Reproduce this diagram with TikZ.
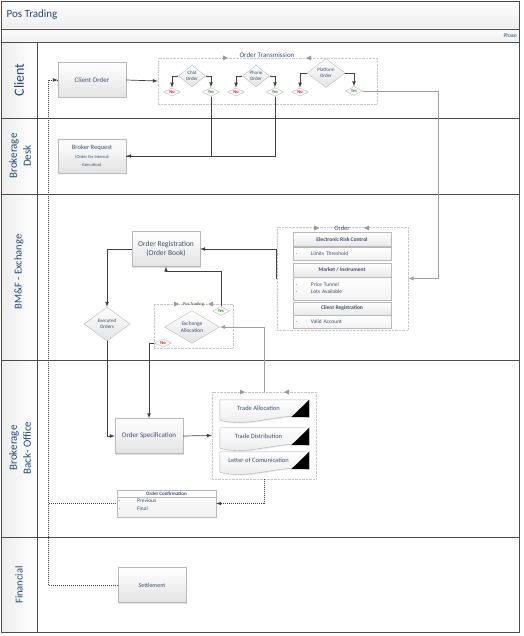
\documentclass[tikz,border=0pt]{standalone}
\usepackage{fontspec}
\setmainfont{Carlito}
\usetikzlibrary{arrows,positioning,calc,shadows,shapes.geometric}
\definecolor{darkblue}{HTML}{1F497D}
\definecolor{boxtext}{HTML}{3B4F74}
\definecolor{nored}{HTML}{E31A1C}
\definecolor{yesgreen}{HTML}{2CA02C}
\newcommand{\fs}[1]{\fontsize{#1}{#1}\selectfont}
\newcommand{\tipright}[1]{\fill[gray!80] (#1) -- ++(-5,-2.5) -- ++(0,5) -- cycle;}
\newcommand{\tipleft}[1]{\fill[gray!80] (#1) -- ++(5,-2.5) -- ++(0,5) -- cycle;}
\newcommand{\bul}{\makebox[15pt][l]{\textperiodcentered}}
\newcommand{\docnode}[4]{%
  \node (#1) [docbox] at (#2,#3) {};
  \draw[gray!60,top color=white,bottom color=gray!18,drop shadow={shadow xshift=1pt,shadow yshift=-1pt,opacity=0.2}] (#1.north west) -- (#1.north east) -- ($(#1.south east)+(0,-3)$) .. controls ($(#1.south east)+(-30,-8)$) and ($(#1.south west)+(30,8)$) .. (#1.south west) -- cycle;
  \node[doctext] at ($(#1)+(-6,-1.5)$) {#4};
  \fill[black] (#1.north east) -- ($(#1.south east)+(0,-3)$) -- ($(#1.south east)+(-18,-3)$) -- cycle;
}
\tikzset{
  lane/.style={draw=black!70,line width=0.8pt},
  lanelabel/.style={rotate=90,text=darkblue,align=center},
  procbox/.style={draw=gray!55,top color=white,bottom color=gray!22,text=boxtext,align=center,inner sep=1pt,minimum width=68pt,minimum height=35pt,drop shadow={shadow xshift=1pt,shadow yshift=-1pt,opacity=0.25}},
  diam/.style={diamond,draw=gray!55,top color=white,bottom color=gray!22,text=boxtext,align=center,inner sep=0pt,font=\fontsize{5}{5.5}\selectfont},
  yesno/.style={diamond,draw=gray!55,fill=gray!5,inner sep=0pt,minimum width=17pt,minimum height=8pt,font=\fs{4.5}\bfseries},
  yes/.style={yesno,text=yesgreen},
  no/.style={yesno,text=nored},
  container/.style={draw=gray!45,densely dotted,inner sep=0pt},
  contitle/.style={text=boxtext,inner sep=1pt},
  sechead/.style={draw=gray!55,top color=white,bottom color=gray!18,text=boxtext,font=\fs{5.5}\bfseries,minimum width=98pt,inner sep=0pt},
  secbody/.style={draw=gray!55,top color=white,bottom color=gray!10,text=boxtext,font=\fontsize{5.5}{7}\selectfont,text width=92pt,inner xsep=3pt,inner ysep=0pt,align=left},
  docbox/.style={minimum width=89pt,minimum height=20pt,inner sep=0pt},
  doctext/.style={text=boxtext,font=\fs{6.5}},
  conn/.style={draw=black!75,line width=0.7pt},
  gconn/.style={draw=gray!75,line width=0.9pt},
  dconn/.style={draw=black!75,dash pattern=on 1pt off 1pt,line width=0.7pt}
}
\begin{document}
\begin{tikzpicture}[x=1pt,y=-1pt]
\useasboundingbox (0,0) rectangle (523,636);
% swimlanes
\shade[top color=white,bottom color=gray!14] (1,1) rectangle (519,29);
\shade[top color=gray!3,bottom color=gray!12] (1,29) rectangle (519,42);
\shade[left color=gray!14,right color=white] (1,42) rectangle (37,632);
\draw[lane] (1,1) rectangle (519,632);
\foreach \y in {29,42,118,194,360,537} \draw[lane] (1,\y) -- (519,\y);
\draw[lane] (37,42) -- (37,632);
\node (title) [anchor=west,text=darkblue,font=\fs{11}] at (3,15) {Pos Trading};
\node (phase) [anchor=east,text=darkblue,font=\fs{5.5},inner sep=1pt] at (518,36) {Phase};
\node (lclient) [lanelabel,font=\fs{14}] at (19,80) {Client};
\node (ldesk) [lanelabel,font=\fontsize{11}{14}\selectfont] at (20,156) {Brokerage\\Desk};
\node (lexch) [lanelabel,font=\fs{10.5}] at (19,272) {BM\&F - Exchange};
\node (lback) [lanelabel,font=\fontsize{11}{14}\selectfont] at (20,448) {Brokerage\\Back- Office};
\node (lfin) [lanelabel,font=\fs{10.5}] at (19,585) {Financial};
%
% client
\node (co) [procbox,font=\fs{7}] at (92,80) {Client Order};
\node (ot) [container,minimum width=219pt,minimum height=46pt] at (267.5,81) {};
\node (otlbl) [contitle,font=\fs{7}] at (267,55) {Order Transmission};
\tipright{228,58}
\tipleft{306,58}
\node (chat) [diam,minimum width=27pt,minimum height=22pt] at (192,76) {Chat\\Order};
\node (phone) [diam,minimum width=27pt,minimum height=22pt] at (256,76) {Phone\\Order};
\node (platf) [diam,minimum width=38pt,minimum height=29pt] at (326,73) {Platform\\Order};
\node (no1) [no] at (172,92) {No};
\node (yes1) [yes] at (211,92) {Yes};
\node (no2) [no] at (236,92) {No};
\node (yes2) [yes] at (275,92) {Yes};
\node (no3) [no] at (300,92) {No};
\node (yes3) [yes] at (354,91) {Yes};
\draw[conn,-latex] (co.east) -- (ot.west);
\draw[conn,-latex] (chat.west) -| (no1.north);
\draw[conn,-latex] (chat.east) -| (yes1.north);
\draw[conn,-latex] (phone.west) -| (no2.north);
\draw[conn,-latex] (phone.east) -| (yes2.north);
\draw[conn,-latex] (platf.west) -| (no3.north);
\draw[conn,-latex] (platf.east) -| (yes3.north);
%
% brokerage desk
\node (br) [procbox,minimum height=34pt,font=\fontsize{6.5}{8}\selectfont] at (92,156) {Broker Request\\[1pt]\fontsize{4.5}{6}\selectfont (Order for Internal\\\fontsize{4.5}{6}\selectfont Execution)};
\draw[conn,-latex] (yes1.south) |- (br.east);
\draw[conn] (yes2.south) |- (br.east);
%
% exchange
\node (ordc) [container,minimum width=131pt,minimum height=103pt] at (342.5,278.5) {};
\node (ordlbl) [contitle,font=\fs{6.5}] at (342,228) {Order};
\tipright{319,228}
\tipleft{364,228}
\node (erch) [sechead,minimum height=14pt] at (342,239.5) {Electronic Risk Control};
\node (ercb) [secbody,minimum height=13pt] at (342,253.5) {\bul Limits Threshold};
\node (mih) [sechead,minimum height=14pt] at (342,270) {Market / Instrument};
\node (mib) [secbody,minimum height=23pt] at (342,288.5) {\bul Price Tunnel\\\bul Lots Available};
\node (crh) [sechead,minimum height=13pt] at (342,308.5) {Client Registration};
\node (crb) [secbody,minimum height=13pt] at (342,321.5) {\bul Valid Account};
\coordinate (platturn) at (438,91);
\draw[gconn,-latex] (yes3.east) -- (platturn) |- (ordc.east);
\node (reg) [procbox,font=\fontsize{7.5}{9}\selectfont] at (166,249) {Order Registration\\(Order Book)};
\draw[conn,-latex] (ordc.west) |- (reg.east);
\node (exe) [diam,minimum width=46pt,minimum height=34pt] at (107,324) {Executed\\Orders};
\draw[conn,-latex] (reg.west) -| (exe.north);
\node (posc) [container,minimum width=79pt,minimum height=44pt] at (193.5,326) {};
\node (poslbl) [contitle,font=\fs{4.5}] at (193.5,304) {Pos Trading};
\tipright{179,304}
\tipleft{208,304}
\node (exch) [diam,minimum width=55pt,minimum height=32pt,font=\fontsize{5.5}{6.5}\selectfont] at (192,327) {Exchange\\Allocation};
\node (yesA) [yes] at (221,311) {Yes};
\node (noA) [no] at (163,343) {No};
\coordinate (regturn) at (221,271);
\draw[conn,-latex] (yesA.north) -- (regturn) -| (reg.south);
%
% back office
\node (spec) [procbox,font=\fs{7}] at (149,436) {Order Specification};
\draw[conn,-latex] (exe.south) |- (spec.west);
\draw[conn,-latex] (noA.west) -| (spec.north);
\node (tradec) [container,minimum width=104pt,minimum height=87pt] at (264,435.5) {};
\tipright{245,392}
\tipleft{284,392}
\docnode{ta}{264.5}{410}{Trade Allocation}
\docnode{td}{264.5}{438}{Trade Distribution}
\docnode{lc}{264.5}{462}{Letter of Comunication}
\draw[conn,-latex] (spec.east) -- (tradec.west);
\draw[gconn,-latex] (tradec.north) |- (exch.east);
\node (oc) [draw=gray!55,top color=white,bottom color=gray!12,minimum width=99pt,minimum height=27pt,inner sep=0pt,drop shadow={shadow xshift=1pt,shadow yshift=-1pt,opacity=0.25}] at (166.5,503.5) {};
\node (och) [draw=gray!55,anchor=north,minimum width=99pt,minimum height=7pt,inner sep=0pt,text=boxtext,font=\fs{5}\bfseries] at (oc.north) {Order Confirmation};
\node (ocb) [anchor=north west,text=boxtext,font=\fontsize{5.5}{8}\selectfont,align=left,inner sep=0pt] at (119,499) {\makebox[18pt][l]{\textperiodcentered}Previous\\\makebox[18pt][l]{\textperiodcentered}Final};
\draw[dconn,-latex] (tradec.south) |- (oc.east);
%
% financial
\node (settle) [procbox,font=\fs{6}] at (152,585) {Settlement};
\coordinate (railtop) at (48,80);
\draw[dconn,-latex] (settle.west) -| (railtop) -- (co.west);
\draw[dconn,dash phase=1pt] (oc.west) -| (railtop) -- (co.west);
\end{tikzpicture}
\end{document}
